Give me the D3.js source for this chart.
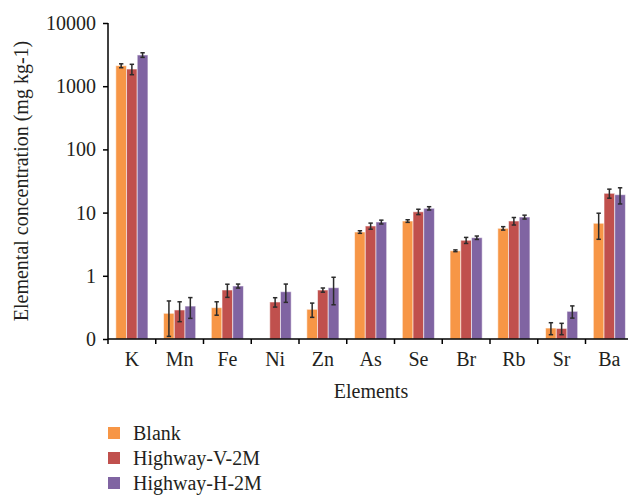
<!DOCTYPE html>
<html>
<head>
<meta charset="utf-8">
<script src="https://cdn.jsdelivr.net/npm/d3@7/dist/d3.min.js"></script>
<style>
  html, body { margin: 0; padding: 0; background: #fff; }
  svg { display: block; }
</style>
</head>
<body>
<script>
// Elemental concentrations (mg kg-1) with standard deviations
const elements = ["K", "Mn", "Fe", "Ni", "Zn", "As", "Se", "Br", "Rb", "Sr", "Ba"];
const seriesNames = ["Blank", "Highway-V-2M", "Highway-H-2M"];
const seriesColors = ["#F79646", "#C0504D", "#8064A2"];

const blankValues = [2110, 0.255, 0.313, null, 0.295, 4.93, 7.36, 2.49, 5.64, 0.149, 6.78];
const blankErrors = [150, 0.145, 0.075, null, 0.075, 0.23, 0.35, 0.08, 0.35, 0.032, 3.0];
const highwayVValues = [1870, 0.288, 0.596, 0.385, 0.596, 6.14, 10.3, 3.65, 7.36, 0.147, 20.2];
const highwayVErrors = [350, 0.10, 0.14, 0.065, 0.045, 0.68, 1.0, 0.4, 1.0, 0.03, 3.3];
const highwayHValues = [3120, 0.332, 0.69, 0.56, 0.648, 7.10, 11.7, 4.01, 8.51, 0.274, 19.2];
const highwayHErrors = [260, 0.12, 0.05, 0.18, 0.30, 0.5, 0.7, 0.25, 0.6, 0.06, 5.5];

const yTickValues = [0.1, 1, 10, 100, 1000, 10000];
const yTickLabels = ["0", "1", "10", "100", "1000", "10000"];

const series = [
  { name: seriesNames[0], color: seriesColors[0], values: blankValues, errors: blankErrors },
  { name: seriesNames[1], color: seriesColors[1], values: highwayVValues, errors: highwayVErrors },
  { name: seriesNames[2], color: seriesColors[2], values: highwayHValues, errors: highwayHErrors }
];

const FONT = "'Liberation Serif', 'DejaVu Serif', serif";
const INK = "#231f20";
const W = 628, H = 495;
const plot = { left: 108, top: 23, bottom: 339, right: 108 + 11 * 47.75 };

const svg = d3.select("body").append("svg").attr("width", W).attr("height", H)
  .style("font-family", FONT);

const x = d3.scaleBand().domain(elements).range([plot.left, plot.right]).paddingInner(0).paddingOuter(0);
const xInner = d3.scaleBand().domain(seriesNames).range([0, x.bandwidth()]).paddingInner(0).paddingOuter(0.73);
const y = d3.scaleLog().domain([0.1, 10000]).range([plot.bottom, plot.top]);

// Bars with error bars, one layer per series
series.forEach(s => {
  const data = elements.map((e, i) => ({ e, v: s.values[i], err: s.errors[i] }))
    .filter(d => d.v != null);
  const g = svg.append("g");
  g.selectAll("rect")
    .data(data)
    .join("rect")
    .attr("x", d => x(d.e) + xInner(s.name))
    .attr("width", xInner.bandwidth())
    .attr("y", d => y(d.v))
    .attr("height", d => y(0.1) - y(d.v))
    .attr("fill", s.color)
    .attr("stroke", "rgba(255,255,255,0.55)")
    .attr("stroke-width", 1);

  const cx = d => x(d.e) + xInner(s.name) + xInner.bandwidth() / 2;
  const hi = d => y(d.v + d.err);
  const lo = d => y(Math.max(d.v - d.err, 0.1));
  const eb = g.selectAll("g.err").data(data).join("g").attr("class", "err")
    .attr("stroke", "#2b2b2b").attr("stroke-width", 1.5);
  eb.append("line").attr("x1", cx).attr("x2", cx).attr("y1", hi).attr("y2", lo);
  eb.append("line").attr("x1", d => cx(d) - 2.2).attr("x2", d => cx(d) + 2.2).attr("y1", hi).attr("y2", hi);
  eb.append("line").attr("x1", d => cx(d) - 2.2).attr("x2", d => cx(d) + 2.2).attr("y1", lo).attr("y2", lo);
});

// Y axis
const yAxis = d3.axisLeft(y)
  .tickValues(yTickValues)
  .tickFormat((d, i) => yTickLabels[i])
  .tickSize(5)
  .tickPadding(7);
const yg = svg.append("g").attr("transform", `translate(${plot.left},0)`).call(yAxis)
  .attr("font-family", FONT);
yg.select(".domain").attr("stroke", "#000").attr("stroke-width", 1.5).attr("d", `M0,${plot.top}V${plot.bottom}`);
yg.selectAll(".tick line").attr("stroke", "#000").attr("stroke-width", 1.5);
yg.selectAll(".tick text").attr("font-size", 20).attr("fill", INK);

// X axis
const xAxis = d3.axisBottom(x).tickSize(0).tickPadding(13);
const xg = svg.append("g").attr("transform", `translate(0,${plot.bottom})`).call(xAxis)
  .attr("font-family", FONT);
xg.select(".domain").attr("stroke", "#000").attr("stroke-width", 1.5).attr("d", `M${plot.left},0H${plot.right}`);
xg.selectAll(".tick text").attr("font-size", 20).attr("fill", INK);
// Category boundary ticks
xg.append("g").selectAll("line")
  .data(d3.range(elements.length + 1))
  .join("line")
  .attr("x1", i => plot.left + i * x.bandwidth())
  .attr("x2", i => plot.left + i * x.bandwidth())
  .attr("y1", 0).attr("y2", 5)
  .attr("stroke", "#000").attr("stroke-width", 1.5);

// Axis titles
svg.append("text")
  .attr("x", 371)
  .attr("y", 398)
  .attr("text-anchor", "middle")
  .attr("font-size", 20)
  .attr("fill", INK)
  .text("Elements");

svg.append("text")
  .attr("transform", `translate(28,${(plot.top + plot.bottom) / 2}) rotate(-90)`)
  .attr("text-anchor", "middle")
  .attr("font-size", 20)
  .attr("fill", INK)
  .text("Elemental concentration (mg kg-1)");

// Legend
const legend = svg.append("g").selectAll("g")
  .data(series)
  .join("g")
  .attr("transform", (d, i) => `translate(108,${433 + i * 25})`);
legend.append("rect")
  .attr("x", 0).attr("y", -6).attr("width", 12).attr("height", 12)
  .attr("fill", d => d.color);
legend.append("text")
  .attr("x", 25).attr("y", 0).attr("dy", "0.35em")
  .attr("font-size", 20)
  .attr("fill", INK)
  .text(d => d.name);
</script>
</body>
</html>
